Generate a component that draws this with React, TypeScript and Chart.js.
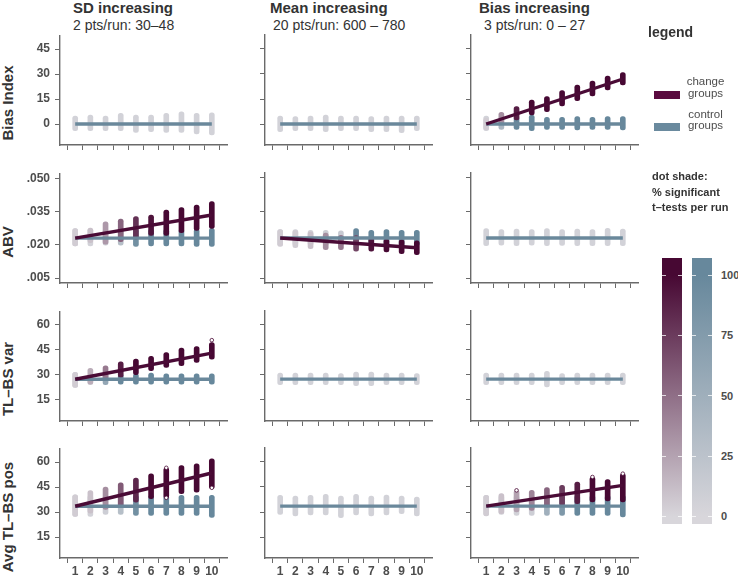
import React, { useEffect, useRef } from 'react';
import { Chart, registerables } from 'chart.js';
Chart.register(...registerables);

// ---------- data ----------
const runs = [1, 2, 3, 4, 5, 6, 7, 8, 9, 10];
const columnTitles = ['SD increasing', 'Mean increasing', 'Bias increasing'];
const columnSubtitles = ['2 pts/run: 30–48', '20 pts/run: 600 – 780', '3 pts/run: 0 – 27'];
const rowLabels = ['Bias Index', 'ABV', 'TL–BS var', 'Avg TL–BS pos'];
const biasIndexTicks = [0, 15, 30, 45];
const abvTicks = [0.005, 0.02, 0.035, 0.05];
const varTicks = [15, 30, 45, 60];
const posTicks = [15, 30, 45, 60];
const shadeTicks = [0, 25, 50, 75, 100];

// Bias Index
const biSD_ctrlLo = [-4, -4, -4, -4, -5, -4.6, -5, -5, -6, -6.6];
const biSD_ctrlHi = [4.8, 5.4, 4.8, 6.4, 5.4, 5.4, 6.4, 7.4, 6.4, 6.8];
const biSD_ctrlSig = [5, 5, 5, 5, 5, 5, 5, 5, 5, 5];
const biMEAN_ctrlLo = [-4.6, -4, -4, -4.6, -4, -4, -4.6, -4.6, -5.2, -4];
const biMEAN_ctrlHi = [4.8, 4.4, 4.8, 5.4, 4.8, 4.8, 4.4, 4.8, 4.8, 4.8];
const biMEAN_ctrlSig = [5, 5, 5, 5, 5, 5, 5, 5, 5, 5];
const biBIAS_ctrlLo = [-4, -3.2, -3.2, -4, -3.2, -3.2, -3.6, -3.2, -3.2, -3.6];
const biBIAS_ctrlHi = [4.8, 4, 4.4, 5.4, 4, 4, 4.4, 4, 4.4, 4.4];
const biBIAS_ctrlSig = [5, 40, 100, 100, 100, 100, 100, 100, 100, 100];
const biBIAS_chgLo = [-3.5, 0, 2.4, 5.4, 7.4, 10.8, 14, 16.8, 20.4, 23.4];
const biBIAS_chgHi = [3.5, 7, 10.4, 14.4, 16.4, 20, 23.4, 25.8, 28.8, 30.8];
const biBIAS_chgSig = [5, 35, 90, 100, 100, 100, 100, 100, 100, 100];
const biControlLevel = 0;
const biBIAS_chgLine = [0, 27];

// ABV
const abvSD_ctrlLo = [0.0195, 0.0195, 0.0198, 0.0198, 0.0192, 0.0195, 0.0195, 0.0195, 0.0192, 0.0192];
const abvSD_ctrlHi = [0.0273, 0.0273, 0.027, 0.027, 0.0271, 0.0271, 0.0271, 0.027, 0.0271, 0.0274];
const abvSD_ctrlSig = [5, 5, 10, 30, 90, 100, 100, 100, 100, 100];
const abvSD_chgLo = [0.0195, 0.0209, 0.0203, 0.0214, 0.0225, 0.0242, 0.0242, 0.0254, 0.0265, 0.0274];
const abvSD_chgHi = [0.0273, 0.0275, 0.0303, 0.0316, 0.0327, 0.0334, 0.0356, 0.0368, 0.0379, 0.0394];
const abvSD_chgSig = [5, 10, 30, 55, 80, 95, 100, 100, 100, 100];
const abvSD_chgLine = [0.023, 0.0334];
const abvMEAN_ctrlLo = [0.0195, 0.0195, 0.0195, 0.0195, 0.0197, 0.0195, 0.0195, 0.0195, 0.0195, 0.0195];
const abvMEAN_ctrlHi = [0.0268, 0.0268, 0.0264, 0.0264, 0.0262, 0.0272, 0.0264, 0.0268, 0.0264, 0.0264];
const abvMEAN_ctrlSig = [5, 5, 5, 10, 15, 100, 100, 100, 100, 100];
const abvMEAN_chgLo = [0.0192, 0.0187, 0.0182, 0.0178, 0.0178, 0.0171, 0.0171, 0.0167, 0.016, 0.0155];
const abvMEAN_chgHi = [0.0268, 0.0263, 0.0258, 0.0252, 0.0242, 0.0241, 0.0231, 0.0225, 0.0222, 0.0217];
const abvMEAN_chgSig = [5, 5, 10, 35, 45, 70, 95, 100, 100, 100];
const abvMEAN_chgLine = [0.023, 0.0186];
const abvBIAS_ctrlLo = [0.0195, 0.0198, 0.0195, 0.0198, 0.0195, 0.0197, 0.0195, 0.0195, 0.0195, 0.0195];
const abvBIAS_ctrlHi = [0.0272, 0.0268, 0.027, 0.0268, 0.0272, 0.0268, 0.027, 0.0268, 0.0273, 0.027];
const abvBIAS_ctrlSig = [5, 5, 5, 5, 5, 5, 5, 5, 5, 5];
const abvControlLevel = 0.023;

// TL–BS var
const varSD_ctrlLo = [22.4, 24, 24, 24.4, 24.4, 24.4, 24.4, 24.4, 24.4, 24.4];
const varSD_ctrlHi = [31.4, 30.6, 30.6, 30.6, 30.6, 31, 30.6, 30.6, 30.6, 30.6];
const varSD_ctrlSig = [5, 5, 60, 100, 100, 100, 100, 100, 100, 100];
const varSD_chgLo = [22.4, 24.4, 27, 28.5, 30, 32.4, 34.4, 35.4, 37.4, 39.4];
const varSD_chgHi = [31.4, 33.8, 35.4, 37.8, 39.4, 41, 43.4, 46, 47, 49.4];
const varSD_chgSig = [5, 20, 45, 90, 100, 100, 100, 100, 100, 100];
const varSD_chgLine = [27.3, 43];
const varSD_outX = [10];
const varSD_outY = [50.8];
const varMEAN_ctrlLo = [24, 24, 24, 24, 24, 23.4, 23.4, 24, 24, 24];
const varMEAN_ctrlHi = [31, 31, 31, 31, 30.6, 31.6, 31.6, 31, 31, 30.6];
const varMEAN_ctrlSig = [5, 5, 5, 5, 5, 5, 5, 5, 5, 5];
const varBIAS_ctrlLo = [24, 24, 24, 24, 22.6, 24, 24, 24, 24, 24];
const varBIAS_ctrlHi = [31, 31, 31, 31, 32, 30.6, 31, 31, 31, 31];
const varBIAS_ctrlSig = [5, 5, 5, 5, 5, 5, 5, 5, 5, 5];
const varControlLevel = 27.3;

// Avg TL–BS pos
const posSD_ctrlLo = [27.4, 27.4, 28.6, 28.6, 28, 28, 28, 28, 28, 26.8];
const posSD_ctrlHi = [40.4, 40, 39.4, 39.4, 40, 40, 40, 40, 40, 40];
const posSD_ctrlSig = [5, 5, 10, 30, 90, 100, 100, 100, 100, 100];
const posSD_chgLo = [27.4, 29.4, 31.6, 33.4, 36, 38, 38.5, 41, 42, 44];
const posSD_chgHi = [40.4, 43, 45, 47.6, 50.4, 53, 56.6, 58, 59, 62];
const posSD_chgSig = [5, 10, 35, 60, 85, 100, 100, 100, 100, 100];
const posSD_chgLine = [33.5, 53.5];
const posSD_outX = [7, 7, 10];
const posSD_outY = [56.6, 38.6, 44.6];
const posMEAN_ctrlLo = [28.6, 27.6, 28.2, 28.2, 26.6, 28.2, 27.6, 28.2, 29, 27.6];
const posMEAN_ctrlHi = [40, 39.6, 40, 40.6, 39.6, 40.6, 39.6, 40.2, 39.6, 39];
const posMEAN_ctrlSig = [5, 5, 5, 5, 5, 5, 5, 5, 5, 5];
const posBIAS_ctrlLo = [28, 28.6, 28, 28, 28, 28, 28, 28, 28, 27];
const posBIAS_ctrlHi = [40, 40, 40, 40, 40, 40, 40, 40, 40, 40];
const posBIAS_ctrlSig = [5, 5, 5, 10, 50, 80, 100, 100, 100, 100];
const posBIAS_chgLo = [27.6, 29, 30, 31, 33, 34, 35, 36, 36.6, 36];
const posBIAS_chgHi = [40, 41, 43, 43, 44.6, 46, 48, 51, 49.4, 53];
const posBIAS_chgSig = [5, 10, 25, 40, 55, 75, 90, 100, 100, 100];
const posBIAS_chgLine = [33.5, 46];
const posBIAS_outX = [3, 8, 10];
const posBIAS_outY = [43, 51, 53];
const posControlLevel = 33.5;

// ---------- styling ----------
const FONT = "'Liberation Sans', Arial, Helvetica, sans-serif";
const LOW = '#d8d6db';
const CHG_HIGH = '#470833';
const CTRL_HIGH = '#67889c';
const CHG_LINE = '#4a0b36';
const CTRL_LINE = '#6a889b';
const AXIS = '#6a6a6a';
const TEXT = '#333333';
const TICK_TEXT = '#4d4d4d';

const COL_X = [60, 265, 471];
const ROW_Y = [35, 173, 311, 448];
const PW = 167;
const PH = 110;
const PAD_L = 40;
const PAD_T = 12;
const PAD_R = 8;
const PAD_B = 24;

function hexToRgb(h: string) {
  const n = parseInt(h.slice(1), 16);
  return [(n >> 16) & 255, (n >> 8) & 255, n & 255];
}
function mix(a: string, b: string, t: number) {
  const A = hexToRgb(a);
  const B = hexToRgb(b);
  return `rgb(${A.map((v, i) => Math.round(v + (B[i] - v) * t)).join(',')})`;
}

type Spec = {
  row: number;
  col: number;
  yMin: number;
  yMax: number;
  yTicks: number[];
  fmt: (v: number) => string;
  ctrlLevel: number;
  ctrlLo: number[];
  ctrlHi: number[];
  ctrlSig: number[];
  chgLo?: number[];
  chgHi?: number[];
  chgSig?: number[];
  chgLine?: number[];
  outX?: number[];
  outY?: number[];
};

const intFmt = (v: number) => String(Math.round(v));
const abvFmt = (v: number) => v.toFixed(3).replace(/^0/, '');

const rowScales = [
  { yMin: -12.6, yMax: 53.4, yTicks: biasIndexTicks, fmt: intFmt },
  { yMin: 0.00275, yMax: 0.05225, yTicks: abvTicks, fmt: abvFmt },
  { yMin: 2.2, yMax: 68.2, yTicks: varTicks, fmt: intFmt },
  { yMin: 2.4, yMax: 68.4, yTicks: posTicks, fmt: intFmt },
];

const specs: Spec[] = [
  { row: 0, col: 0, ...rowScales[0], ctrlLevel: biControlLevel, ctrlLo: biSD_ctrlLo, ctrlHi: biSD_ctrlHi, ctrlSig: biSD_ctrlSig },
  { row: 0, col: 1, ...rowScales[0], ctrlLevel: biControlLevel, ctrlLo: biMEAN_ctrlLo, ctrlHi: biMEAN_ctrlHi, ctrlSig: biMEAN_ctrlSig },
  { row: 0, col: 2, ...rowScales[0], ctrlLevel: biControlLevel, ctrlLo: biBIAS_ctrlLo, ctrlHi: biBIAS_ctrlHi, ctrlSig: biBIAS_ctrlSig, chgLo: biBIAS_chgLo, chgHi: biBIAS_chgHi, chgSig: biBIAS_chgSig, chgLine: biBIAS_chgLine },
  { row: 1, col: 0, ...rowScales[1], ctrlLevel: abvControlLevel, ctrlLo: abvSD_ctrlLo, ctrlHi: abvSD_ctrlHi, ctrlSig: abvSD_ctrlSig, chgLo: abvSD_chgLo, chgHi: abvSD_chgHi, chgSig: abvSD_chgSig, chgLine: abvSD_chgLine },
  { row: 1, col: 1, ...rowScales[1], ctrlLevel: abvControlLevel, ctrlLo: abvMEAN_ctrlLo, ctrlHi: abvMEAN_ctrlHi, ctrlSig: abvMEAN_ctrlSig, chgLo: abvMEAN_chgLo, chgHi: abvMEAN_chgHi, chgSig: abvMEAN_chgSig, chgLine: abvMEAN_chgLine },
  { row: 1, col: 2, ...rowScales[1], ctrlLevel: abvControlLevel, ctrlLo: abvBIAS_ctrlLo, ctrlHi: abvBIAS_ctrlHi, ctrlSig: abvBIAS_ctrlSig },
  { row: 2, col: 0, ...rowScales[2], ctrlLevel: varControlLevel, ctrlLo: varSD_ctrlLo, ctrlHi: varSD_ctrlHi, ctrlSig: varSD_ctrlSig, chgLo: varSD_chgLo, chgHi: varSD_chgHi, chgSig: varSD_chgSig, chgLine: varSD_chgLine, outX: varSD_outX, outY: varSD_outY },
  { row: 2, col: 1, ...rowScales[2], ctrlLevel: varControlLevel, ctrlLo: varMEAN_ctrlLo, ctrlHi: varMEAN_ctrlHi, ctrlSig: varMEAN_ctrlSig },
  { row: 2, col: 2, ...rowScales[2], ctrlLevel: varControlLevel, ctrlLo: varBIAS_ctrlLo, ctrlHi: varBIAS_ctrlHi, ctrlSig: varBIAS_ctrlSig },
  { row: 3, col: 0, ...rowScales[3], ctrlLevel: posControlLevel, ctrlLo: posSD_ctrlLo, ctrlHi: posSD_ctrlHi, ctrlSig: posSD_ctrlSig, chgLo: posSD_chgLo, chgHi: posSD_chgHi, chgSig: posSD_chgSig, chgLine: posSD_chgLine, outX: posSD_outX, outY: posSD_outY },
  { row: 3, col: 1, ...rowScales[3], ctrlLevel: posControlLevel, ctrlLo: posMEAN_ctrlLo, ctrlHi: posMEAN_ctrlHi, ctrlSig: posMEAN_ctrlSig },
  { row: 3, col: 2, ...rowScales[3], ctrlLevel: posControlLevel, ctrlLo: posBIAS_ctrlLo, ctrlHi: posBIAS_ctrlHi, ctrlSig: posBIAS_ctrlSig, chgLo: posBIAS_chgLo, chgHi: posBIAS_chgHi, chgSig: posBIAS_chgSig, chgLine: posBIAS_chgLine, outX: posBIAS_outX, outY: posBIAS_outY },
];

function Panel({ spec }: { spec: Spec }) {
  const ref = useRef<HTMLCanvasElement>(null);
  useEffect(() => {
    const datasets: any[] = [];
    datasets.push({
      type: 'bar',
      data: runs.map((x, i) => ({ x, y: [spec.ctrlLo[i], spec.ctrlHi[i]] })),
      backgroundColor: spec.ctrlSig.map((s) => mix(LOW, CTRL_HIGH, s / 100)),
      barThickness: 5,
      borderRadius: 3,
      borderSkipped: false,
      grouped: false,
      order: 6,
    });
    if (spec.chgLo && spec.chgHi && spec.chgSig) {
      const sig = spec.chgSig;
      const hi = spec.chgHi;
      datasets.push({
        type: 'bar',
        data: runs.map((x, i) => ({ x, y: [spec.chgLo![i], hi[i]] })),
        backgroundColor: sig.map((s) => mix(LOW, CHG_HIGH, s / 100)),
        barThickness: 5,
        borderRadius: 3,
        borderSkipped: false,
        grouped: false,
        order: 5,
      });
    }
    datasets.push({
      type: 'line',
      data: [
        { x: runs[0], y: spec.ctrlLevel },
        { x: runs[runs.length - 1], y: spec.ctrlLevel },
      ],
      borderColor: CTRL_LINE,
      borderWidth: 3.4,
      pointRadius: 0,
      order: 4,
    });
    if (spec.chgLine) {
      datasets.push({
        type: 'line',
        data: [
          { x: runs[0], y: spec.chgLine[0] },
          { x: runs[runs.length - 1], y: spec.chgLine[1] },
        ],
        borderColor: CHG_LINE,
        borderWidth: 3.4,
        pointRadius: 0,
        order: 3,
      });
    }
    if (spec.outX && spec.outY) {
      const oy = spec.outY;
      datasets.push({
        type: 'scatter',
        data: spec.outX.map((x, i) => ({ x, y: oy[i] })),
        pointRadius: 1.8,
        pointBackgroundColor: '#ffffff',
        pointBorderColor: CHG_HIGH,
        pointBorderWidth: 0.8,
        order: 1,
      });
    }
    const showX = spec.row === 3;
    const showY = spec.col === 0;
    const tickFont = { family: FONT, size: 12, weight: 'bold' as const };
    const chart = new Chart(ref.current as HTMLCanvasElement, {
      type: 'bar',
      data: { datasets },
      options: {
        animation: false,
        responsive: false,
        events: [],
        layout: { padding: { top: PAD_T, right: PAD_R, left: 0, bottom: 0 } },
        plugins: { legend: { display: false }, tooltip: { enabled: false } },
        scales: {
          x: {
            type: 'linear',
            min: 0.55,
            max: 10.45,
            afterBuildTicks: (s: any) => {
              s.ticks = runs.map((v) => ({ value: v }));
            },
            afterFit: (s: any) => {
              s.height = PAD_B;
            },
            ticks: {
              display: showX,
              font: tickFont,
              color: TICK_TEXT,
              padding: 1,
              maxRotation: 0,
              autoSkip: false,
              callback: (v: any) => String(v),
            },
            grid: { drawOnChartArea: false, drawTicks: true, tickLength: 5, color: AXIS, lineWidth: 1 },
            border: { display: true, color: AXIS, width: 1.4 },
          },
          y: {
            type: 'linear',
            min: spec.yMin,
            max: spec.yMax,
            afterBuildTicks: (s: any) => {
              s.ticks = spec.yTicks.map((v) => ({ value: v }));
            },
            afterFit: (s: any) => {
              s.width = PAD_L;
            },
            ticks: {
              display: showY,
              font: tickFont,
              color: TICK_TEXT,
              padding: 5,
              callback: (v: any) => spec.fmt(Number(v)),
            },
            grid: { drawOnChartArea: false, drawTicks: true, tickLength: 5, color: AXIS, lineWidth: 1 },
            border: { display: true, color: AXIS, width: 1.4 },
          },
        },
      } as any,
    });
    return () => chart.destroy();
  }, [spec]);
  const left = COL_X[spec.col] - PAD_L;
  const top = ROW_Y[spec.row] - PAD_T;
  return (
    <canvas
      ref={ref}
      width={PAD_L + PW + PAD_R}
      height={PAD_T + PH + PAD_B}
      style={{ position: 'absolute', left, top, width: PAD_L + PW + PAD_R, height: PAD_T + PH + PAD_B }}
    />
  );
}

function Txt({ x, base, size, bold, color, children, align }: any) {
  const top = base - 0.8465 * size;
  const style: any = {
    position: 'absolute',
    top,
    fontSize: size,
    lineHeight: `${size}px`,
    fontWeight: bold ? 'bold' : 'normal',
    color: color || TEXT,
    whiteSpace: 'nowrap',
    fontFamily: FONT,
  };
  if (align === 'center') {
    style.left = x - 100;
    style.width = 200;
    style.textAlign = 'center';
  } else {
    style.left = x;
  }
  return <div style={style}>{children}</div>;
}

const rowLabelCenters = [103, 242, 379, 517];
const titleX = [73, 270, 479];
const subtitleX = [73, 273, 484];

const BAR_TOP = 258;
const BAR_H = 266;
const SHADE_Y0 = 516.7;
const SHADE_Y100 = 275;

function ColorBar({ left, high }: { left: number; high: string }) {
  const s100 = ((SHADE_Y100 - BAR_TOP) / BAR_H) * 100;
  const s0 = ((SHADE_Y0 - BAR_TOP) / BAR_H) * 100;
  return (
    <div
      style={{
        position: 'absolute',
        left,
        top: BAR_TOP,
        width: 20,
        height: BAR_H,
        background: `linear-gradient(to bottom, ${high} 0%, ${high} ${s100}%, ${LOW} ${s0}%, ${LOW} 100%)`,
      }}
    >
      {shadeTicks.map((v) => {
        const y = SHADE_Y0 - (v / 100) * (SHADE_Y0 - SHADE_Y100) - BAR_TOP;
        return (
          <React.Fragment key={v}>
            <div style={{ position: 'absolute', left: 0, top: y - 0.5, width: 4, height: 1, background: 'rgba(255,255,255,0.75)' }} />
            <div style={{ position: 'absolute', left: 16, top: y - 0.5, width: 4, height: 1, background: 'rgba(255,255,255,0.75)' }} />
          </React.Fragment>
        );
      })}
    </div>
  );
}

export default function App() {
  return (
    <div
      style={{
        position: 'absolute',
        left: 0,
        top: 0,
        width: 738,
        height: 576,
        background: '#ffffff',
        fontFamily: FONT,
        overflow: 'hidden',
      }}
    >
      {columnTitles.map((t, i) => (
        <Txt key={'t' + i} x={titleX[i]} base={12.5} size={15} bold>
          {t}
        </Txt>
      ))}
      {columnSubtitles.map((t, i) => (
        <Txt key={'s' + i} x={subtitleX[i]} base={30} size={14}>
          {t}
        </Txt>
      ))}
      {rowLabels.map((t, i) => (
        <div
          key={'r' + i}
          style={{
            position: 'absolute',
            left: 7.5 - 100,
            top: rowLabelCenters[i] - 10,
            width: 200,
            height: 20,
            lineHeight: '20px',
            textAlign: 'center',
            fontSize: 15,
            fontWeight: 'bold',
            color: TEXT,
            transform: 'rotate(-90deg)',
            whiteSpace: 'nowrap',
            fontFamily: FONT,
          }}
        >
          {t}
        </div>
      ))}
      {specs.map((s, i) => (
        <Panel key={i} spec={s} />
      ))}

      {/* legend */}
      <Txt x={648} base={36.7} size={14} bold>
        legend
      </Txt>
      <div style={{ position: 'absolute', left: 654, top: 91, width: 26, height: 8, background: '#5a0a3f' }} />
      <Txt x={705.5} base={86} size={11.5} color={TICK_TEXT} align="center">
        change
      </Txt>
      <Txt x={705.5} base={97.5} size={11.5} color={TICK_TEXT} align="center">
        groups
      </Txt>
      <div style={{ position: 'absolute', left: 654, top: 122.7, width: 26, height: 8, background: '#6a8a9e' }} />
      <Txt x={705.5} base={118.3} size={11.5} color={TICK_TEXT} align="center">
        control
      </Txt>
      <Txt x={705.5} base={130} size={11.5} color={TICK_TEXT} align="center">
        groups
      </Txt>

      <Txt x={652} base={180} size={11} bold>
        dot shade:
      </Txt>
      <Txt x={652} base={196.5} size={11} bold>
        % significant
      </Txt>
      <Txt x={652} base={211.5} size={11} bold>
        t–tests per run
      </Txt>

      <ColorBar left={662} high={CHG_HIGH} />
      <ColorBar left={692} high={CTRL_HIGH} />
      {shadeTicks.map((v) => (
        <Txt
          key={'sl' + v}
          x={721}
          base={SHADE_Y0 - (v / 100) * (SHADE_Y0 - SHADE_Y100) + 4}
          size={11}
          bold
          color={TICK_TEXT}
        >
          {String(v)}
        </Txt>
      ))}
    </div>
  );
}
